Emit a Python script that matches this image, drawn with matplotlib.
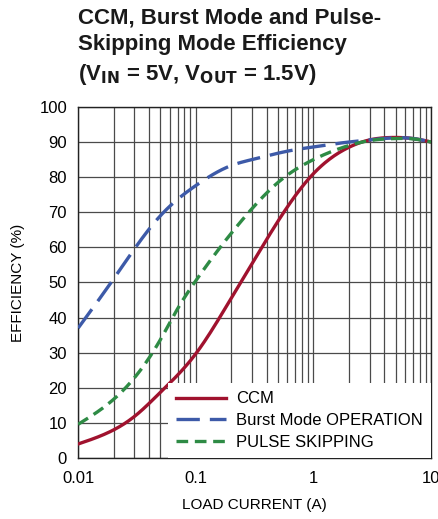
import numpy as np
import matplotlib
matplotlib.use("Agg")
import matplotlib.pyplot as plt
from matplotlib.ticker import LogLocator, NullFormatter, FixedLocator

# data
ccm_x = [0.01, 0.02, 0.03, 0.05, 0.1, 0.2, 0.3, 0.6, 1.0, 2.0, 3.0, 5.0, 7.0, 10.0]
ccm_y = [4.0, 8.0, 11.8, 18.7, 29.7, 45.5, 55.3, 71.5, 81.0, 88.5, 90.6, 91.3, 91.0, 90.0]

burst_x = [0.01, 0.02, 0.03, 0.05, 0.1, 0.2, 0.3, 0.67, 1.0, 2.0, 3.0, 5.0, 7.0, 10.0]
burst_y = [37.0, 51.0, 59.5, 69.0, 77.6, 83.3, 85.0, 87.7, 88.6, 90.0, 90.6, 91.2, 91.0, 90.0]

pulse_x = [0.01, 0.02, 0.03, 0.05, 0.07, 0.1, 0.2, 0.3, 0.5, 1.0, 2.0, 3.0, 5.0, 7.0, 10.0]
pulse_y = [9.6, 16.7, 22.8, 33.7, 42.5, 50.5, 64.0, 71.0, 78.5, 85.0, 89.0, 90.4, 91.0, 90.9, 90.0]

x_ticks = [0.01, 0.1, 1, 10]
x_labels = ["0.01", "0.1", "1", "10"]
y_ticks = list(range(0, 101, 10))

plt.rcParams["font.family"] = ["Liberation Sans", "DejaVu Sans"]


def spline(xs, ys, n=300):
    """Natural cubic spline through the read points, in log-x space."""
    x = np.log10(np.asarray(xs, float))
    y = np.asarray(ys, float)
    npt = len(x)
    h = np.diff(x)
    A = np.zeros((npt, npt))
    b = np.zeros(npt)
    A[0, 0] = A[-1, -1] = 1.0
    for i in range(1, npt - 1):
        A[i, i - 1] = h[i - 1]
        A[i, i] = 2 * (h[i - 1] + h[i])
        A[i, i + 1] = h[i]
        b[i] = 6 * ((y[i + 1] - y[i]) / h[i] - (y[i] - y[i - 1]) / h[i - 1])
    M = np.linalg.solve(A, b)
    t = np.linspace(x[0], x[-1], n)
    k = np.clip(np.searchsorted(x, t) - 1, 0, npt - 2)
    a = x[k + 1] - t
    c = t - x[k]
    hk = h[k]
    out = (M[k] * a**3 + M[k + 1] * c**3) / (6 * hk) \
        + (y[k] / hk - M[k] * hk / 6) * a + (y[k + 1] / hk - M[k + 1] * hk / 6) * c
    return 10**t, out


fig = plt.figure(figsize=(4.39, 5.19), dpi=100)
ax = fig.add_axes([0.178, 0.1175, 0.804, 0.6765])

x, y = spline(ccm_x, ccm_y)
ax.plot(x, y, color="#a0122e", lw=2.4, label="CCM", zorder=3)
x, y = spline(burst_x, burst_y)
ax.plot(x, y, color="#3d5aa8", lw=2.4, dashes=(7, 3), label="Burst Mode OPERATION", zorder=3)
x, y = spline(pulse_x, pulse_y)
ax.plot(x, y, color="#2e8b45", lw=2.4, dashes=(3.5, 2), label="PULSE SKIPPING", zorder=3)

ax.set_xscale("log")
ax.set_xlim(0.01, 10)
ax.set_ylim(0, 100)
ax.xaxis.set_major_locator(FixedLocator(x_ticks))
ax.set_xticklabels(x_labels)
ax.xaxis.set_minor_locator(LogLocator(base=10, subs=np.arange(2, 10)))
ax.xaxis.set_minor_formatter(NullFormatter())
ax.set_yticks(y_ticks)
ax.grid(True, which="both", color="#4a4a4a", lw=0.9)
ax.tick_params(which="both", length=0, labelsize=12)
ax.tick_params(axis="y", pad=8)
ax.tick_params(axis="x", pad=9)
for s in ax.spines.values():
    s.set_color("#222222")
    s.set_linewidth(1.0)

ax.set_xlabel("LOAD CURRENT (A)", fontsize=11, labelpad=9)
ax.set_ylabel("EFFICIENCY (%)", fontsize=11, labelpad=10)

leg = ax.legend(loc="lower right", frameon=True, fontsize=12, handlelength=3.0,
                borderaxespad=0.0, fancybox=False, borderpad=0.5, labelspacing=0.4,
                handletextpad=0.6)
leg.get_frame().set_edgecolor("none")
leg.get_frame().set_facecolor("white")
leg.get_frame().set_alpha(1.0)
leg.set_zorder(4)

fig.text(0.178, 0.985, "CCM, Burst Mode and Pulse-\nSkipping Mode Efficiency\n"
         r"(V$_{\mathbf{IN}}$ = 5V, V$_{\mathbf{OUT}}$ = 1.5V)",
         fontsize=16, fontweight="bold", va="top", ha="left", linespacing=1.35,
         color="#1a1a1a")

fig.savefig("out.png", dpi=100)
